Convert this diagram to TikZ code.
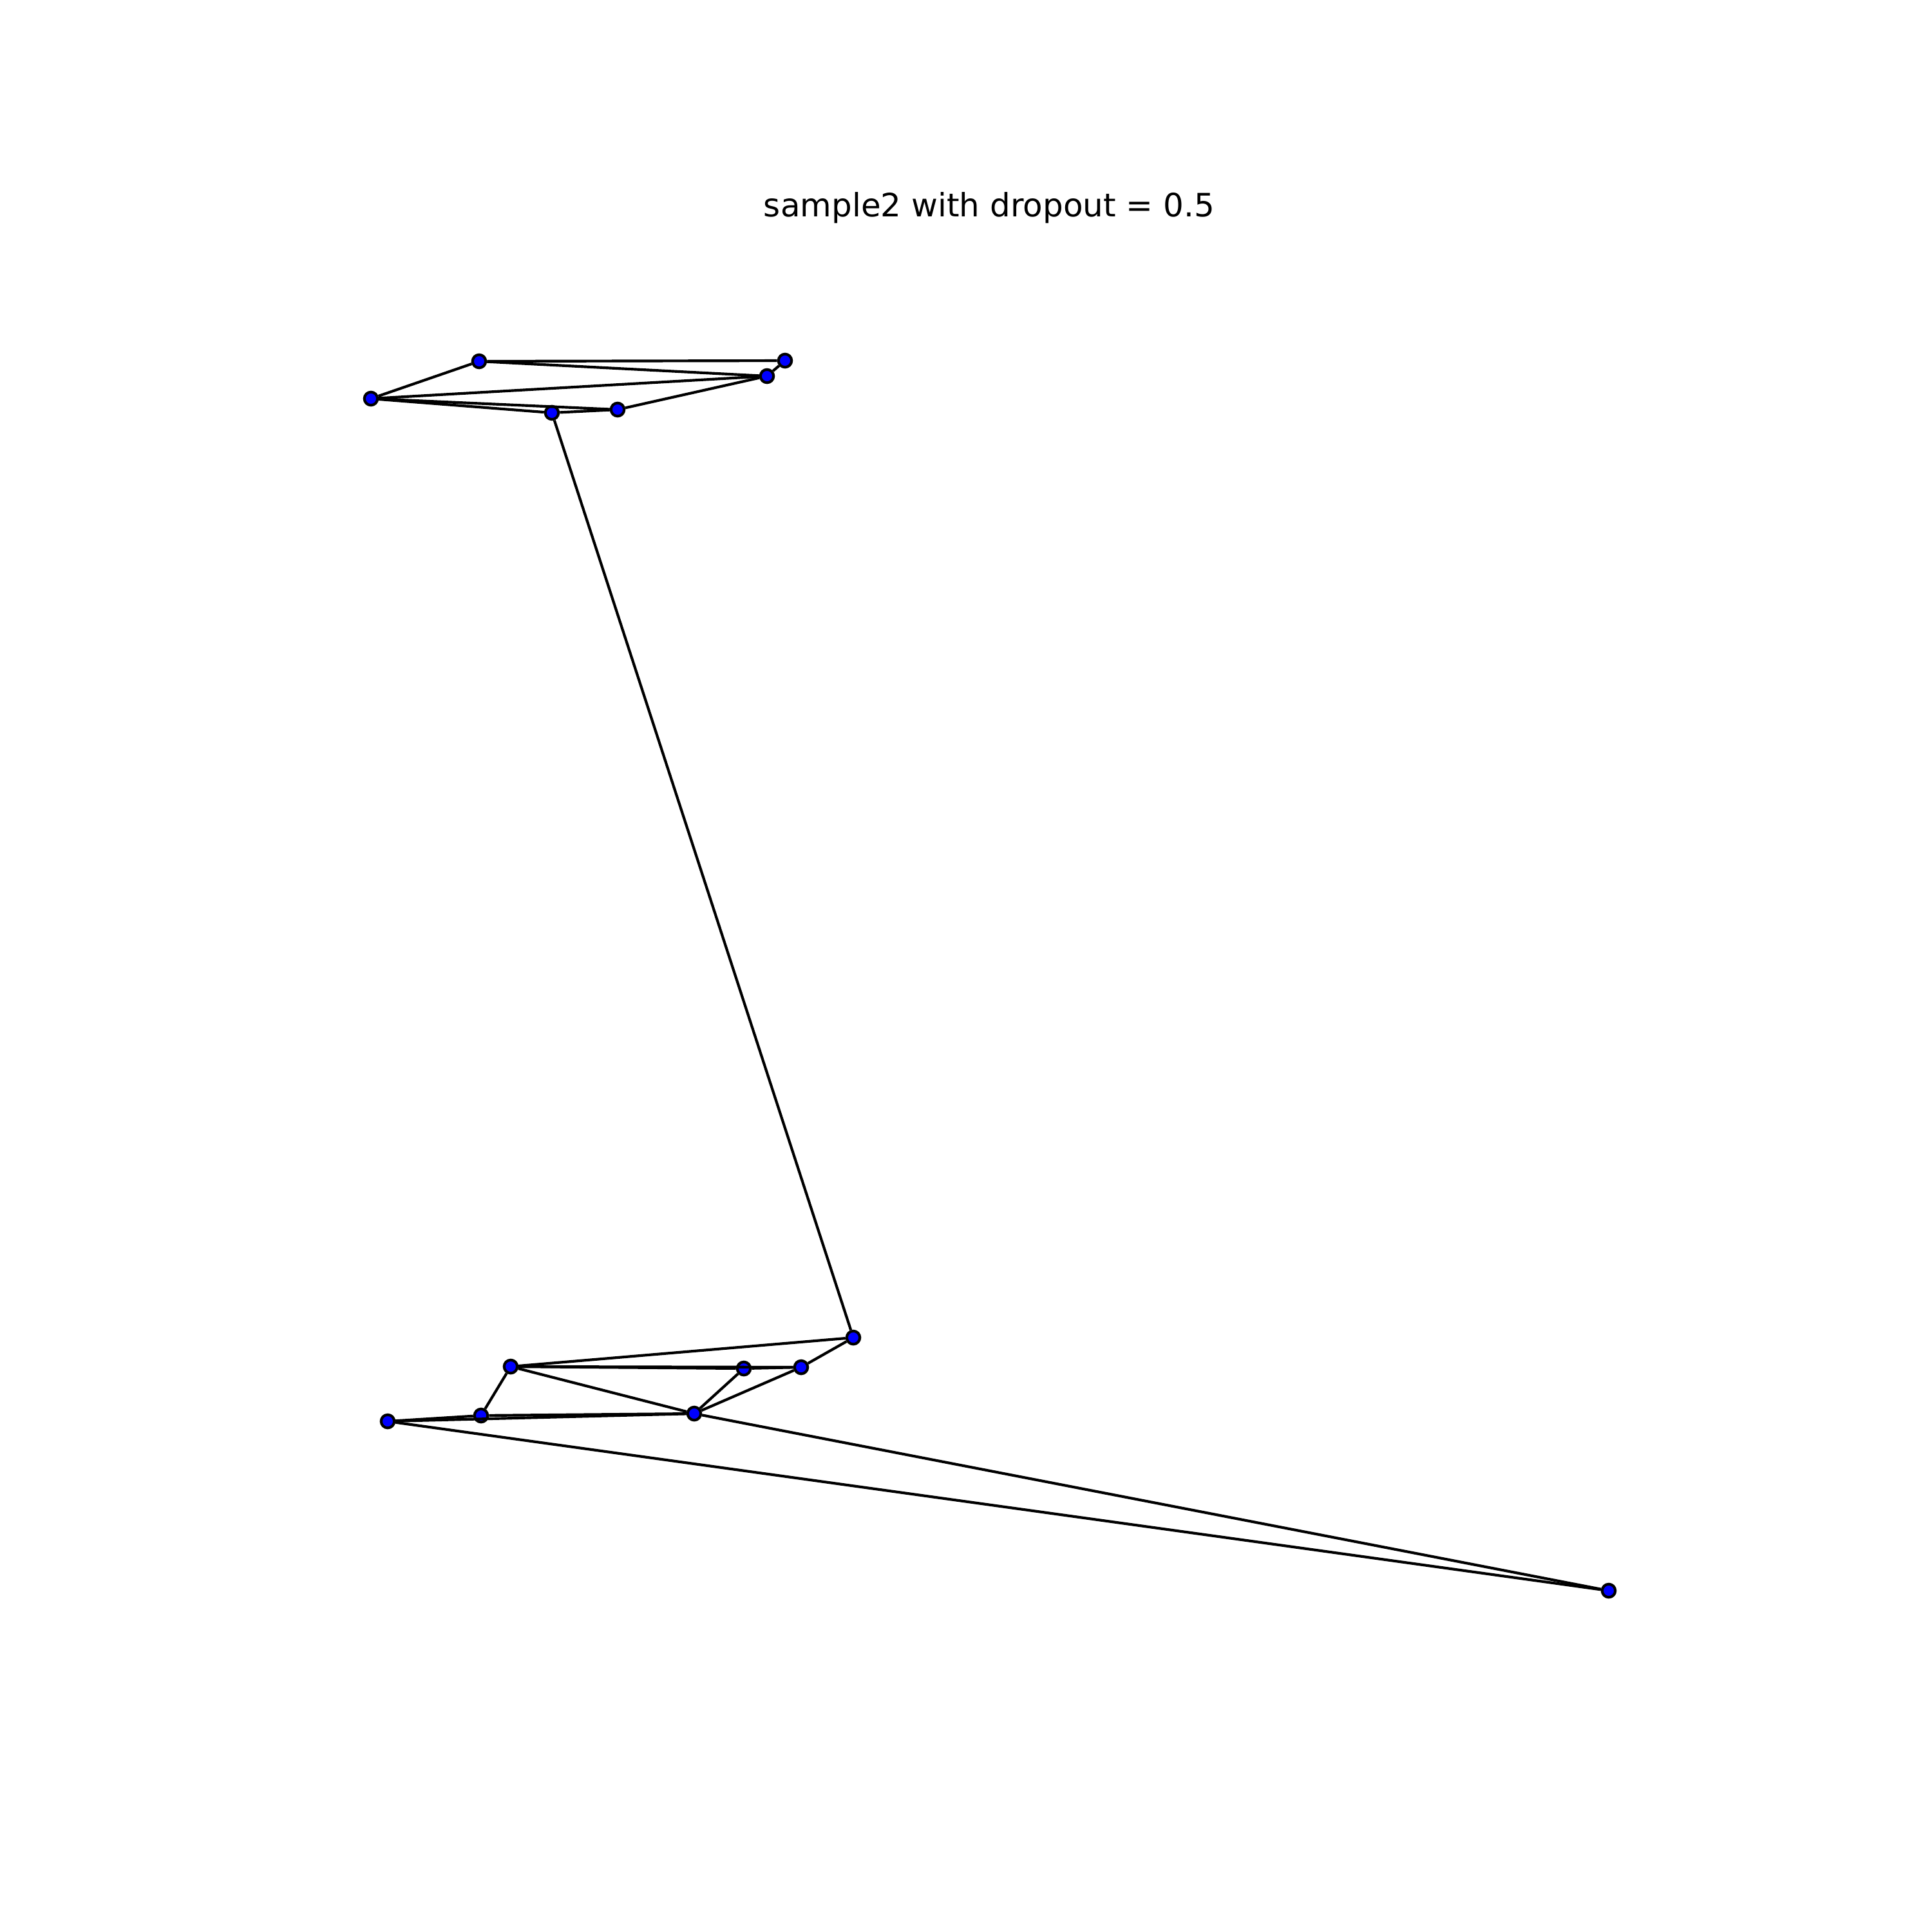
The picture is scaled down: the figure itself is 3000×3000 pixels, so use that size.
\documentclass[tikz,border=0pt]{standalone}
\usepackage{fontspec}
\setmainfont{DejaVu Sans}
\begin{document}
\begin{tikzpicture}[x=0.24pt,y=-0.24pt,
  vertex/.style={circle,fill={rgb,255:red,0;green,0;blue,255},draw=black,line width=1pt,inner sep=0pt,minimum size=4.9pt},
  edge/.style={draw=black,line width=1pt}]
\useasboundingbox (0,0) rectangle (3000,3000);
\node[anchor=base,font=\fontsize{12}{14}\selectfont] (title) at (1536,336) {sample2 with dropout = 0.5};
% top cluster
\node[vertex] (A) at (744,561) {};
\node[vertex] (B) at (1219,560) {};
\node[vertex] (C) at (1191,584) {};
\node[vertex] (D) at (576,619) {};
\node[vertex] (E) at (857,641) {};
\node[vertex] (F) at (959,636) {};
% bottom cluster
\node[vertex] (G) at (1325,2077) {};
\node[vertex] (H) at (793,2122) {};
\node[vertex] (I) at (1155,2125) {};
\node[vertex] (J) at (1244,2123) {};
\node[vertex] (K) at (1078,2195) {};
\node[vertex] (L) at (747,2198) {};
\node[vertex] (M) at (602,2207) {};
\node[vertex] (N) at (2498,2470) {};
\path[edge] (A) -- (B);
\path[edge] (A) -- (C);
\path[edge] (A) -- (D);
\path[edge] (D) -- (C);
\path[edge] (D) -- (E);
\path[edge] (D) -- (F);
\path[edge] (E) -- (F);
\path[edge] (F) -- (C);
\path[edge] (C) -- (B);
\path[edge] (E) -- (G);
\path[edge] (G) -- (H);
\path[edge] (G) -- (J);
\path[edge] (H) -- (I);
\path[edge] (H) -- (J);
\path[edge] (I) -- (J);
\path[edge] (H) -- (K);
\path[edge] (H) -- (L);
\path[edge] (I) -- (K);
\path[edge] (J) -- (K);
\path[edge] (L) -- (K);
\path[edge] (M) -- (L);
\path[edge] (M) -- (K);
\path[edge] (K) -- (N);
\path[edge] (M) -- (N);
\end{tikzpicture}
\end{document}
